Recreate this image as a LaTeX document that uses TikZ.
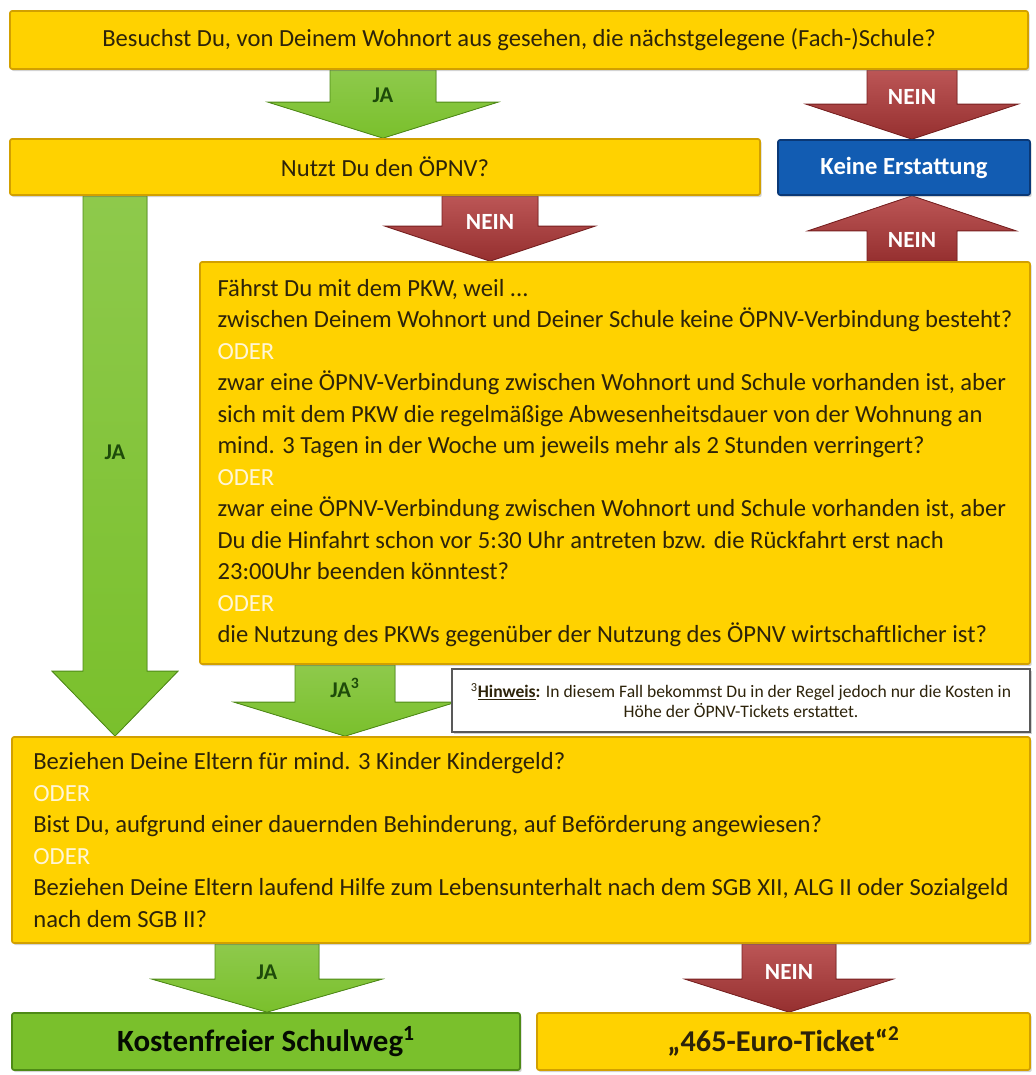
\documentclass[tikz,border=0pt]{standalone}
\usepackage{fontspec}
\setmainfont{Carlito}
\usetikzlibrary{calc,shadows,backgrounds}

\definecolor{boxyellow}{RGB}{255,210,0}
\definecolor{boxyellowdk}{RGB}{210,160,0}
\definecolor{jagreen}{RGB}{122,192,44}
\definecolor{jagreendk}{RGB}{78,138,22}
\definecolor{neinred}{RGB}{176,56,56}
\definecolor{neinreddk}{RGB}{120,32,32}
\definecolor{keinblue}{RGB}{18,92,178}
\definecolor{keinbluedk}{RGB}{10,56,118}
\definecolor{odercol}{RGB}{255,246,215}
\definecolor{ink}{RGB}{45,35,10}
\definecolor{jaink}{RGB}{30,75,10}

\newlength\px
\setlength\px{0.025cm}
\newcommand{\boxfont}{\fontsize{17.5pt}{22.4pt}\selectfont}
\newcommand{\oder}{\textcolor{odercol}{ODER}}

% block arrow along a vertical axis: style, axis x, from, to, half shaft, half head, head length
\newcommand{\blockarrow}[7]{%
  \coordinate (ax) at (#2,0);
  \coordinate (s) at (#3 -| ax);
  \coordinate (t) at (#4 -| ax);
  \coordinate (h) at ($(t)+(0,#7)$);
  \filldraw[#1] ($(s)+(-#5,0)$) -- ($(s)+(#5,0)$) -- ($(h)+(#5,0)$) -- ($(h)+(#6,0)$) -- (t)
    -- ($(h)+(-#6,0)$) -- ($(h)+(-#5,0)$) -- cycle;
}

\tikzset{
  ybox/.style={draw=boxyellowdk, fill=boxyellow, line width=1.2pt, rounded corners=1.5pt,
    text=ink, font=\boxfont, inner sep=0pt,
    drop shadow={opacity=0.35, shadow xshift=1.2pt, shadow yshift=-1.5pt}},
  gbox/.style={ybox, draw=jagreendk, fill=jagreen, text=black!85!jaink},
  bbox/.style={ybox, draw=keinbluedk, fill=keinblue, text=white},
  hintbox/.style={draw=gray!70!black, fill=white, line width=1.4pt, text=ink, inner sep=0pt,
    font=\fontsize{12.5pt}{14.4pt}\selectfont,
    drop shadow={opacity=0.35, shadow xshift=1.2pt, shadow yshift=-1.5pt}},
  jaarrow/.style={draw=jagreendk, line width=0.6pt, top color=jagreen!85!white, bottom color=jagreen},
  neinarrow/.style={draw=neinreddk, line width=0.6pt, top color=neinred!85!white, bottom color=neinred!85!black},
  jalabel/.style={text=jaink, font=\fontsize{16pt}{18pt}\selectfont\bfseries, inner sep=0pt},
  neinlabel/.style={text=white, font=\fontsize{16.5pt}{18pt}\selectfont\bfseries, inner sep=0pt}
}

\begin{document}
\begin{tikzpicture}[x=0.025cm,y=0.025cm]
\useasboundingbox (0,0) rectangle (1035,-1075);

\node (q1) [ybox, minimum width=1018\px, minimum height=58\px] at (519,-40)
  {Besuchst Du, von Deinem Wohnort aus gesehen, die nächstgelegene (Fach-)Schule?};
\node (q2) [ybox, minimum width=750\px, minimum height=56\px] at (385,-167) {Nutzt Du den ÖPNV?};
\node (kein) [bbox, minimum width=252\px, minimum height=55\px, font=\fontsize{17.5pt}{20pt}\selectfont\bfseries]
  at (904,-167.5) {Keine Erstattung};
\node (q3) [ybox, align=left, minimum width=830\px, minimum height=402\px] at (615,-463)
  {Fährst Du mit dem PKW, weil ...\\
   zwischen Deinem Wohnort und Deiner Schule keine ÖPNV-Verbindung besteht?\\
   \oder\\
   zwar eine ÖPNV-Verbindung zwischen Wohnort und Schule vorhanden ist, aber\\
   sich mit dem PKW die regelmäßige Abwesenheitsdauer von der Wohnung an\\
   mind. 3 Tagen in der Woche um jeweils mehr als 2 Stunden verringert?\\
   \oder\\
   zwar eine ÖPNV-Verbindung zwischen Wohnort und Schule vorhanden ist, aber\\
   Du die Hinfahrt schon vor 5:30 Uhr antreten bzw. die Rückfahrt erst nach\\
   23:00Uhr beenden könntest?\\
   \oder\\
   die Nutzung des PKWs gegenüber der Nutzung des ÖPNV wirtschaftlicher ist?};
\node (hint) [hintbox, align=center, minimum width=578\px, minimum height=63\px] at (741,-700.5)
  {\textsuperscript{3}\textbf{\underline{Hinweis}:} In diesem Fall bekommst Du in der Regel jedoch nur die Kosten in\\
   Höhe der ÖPNV-Tickets erstattet.};
\node (q4) [ybox, align=left, minimum width=1018\px, minimum height=206\px] at (521,-840)
  {Beziehen Deine Eltern für mind. 3 Kinder Kindergeld?\\
   \oder\\
   Bist Du, aufgrund einer dauernden Behinderung, auf Beförderung angewiesen?\\
   \oder\\
   Beziehen Deine Eltern laufend Hilfe zum Lebensunterhalt nach dem SGB XII, ALG II oder Sozialgeld\\
   nach dem SGB II?};
\node (free) [gbox, minimum width=508\px, minimum height=57\px, font=\fontsize{22pt}{24pt}\selectfont\bfseries]
  at (266,-1041.5) {Kostenfreier Schulweg\textsuperscript{1}};
\node (ticket) [ybox, minimum width=493\px, minimum height=57\px, font=\fontsize{21.5pt}{24pt}\selectfont\bfseries]
  at (783.5,-1041.5) {„465-Euro-Ticket“\textsuperscript{2}};

\begin{scope}[on background layer]
\blockarrow{jaarrow}{383}{q1.south}{q2.north}{53}{115}{36}
\blockarrow{neinarrow}{912}{q1.south}{kein.north}{45}{106}{35}
\blockarrow{neinarrow}{490}{q2.south}{q3.north}{48}{105}{35}
\blockarrow{neinarrow}{912}{q3.north}{kein.south}{45}{104}{-35}
\blockarrow{jaarrow}{115}{q2.south}{q4.north}{32}{63}{65}
\blockarrow{jaarrow}{345}{q3.south}{q4.north}{50}{111}{34}
\blockarrow{jaarrow}{267}{q4.south}{free.north}{52}{115}{33}
\blockarrow{neinarrow}{789}{q4.south}{ticket.north}{47}{104}{33}
\end{scope}

\node (ja1) [jalabel] at (383,-95) {JA};
\node (nein1) [neinlabel] at (912,-97) {NEIN};
\node (nein2) [neinlabel] at (490,-222) {NEIN};
\node (nein3) [neinlabel] at (912,-240) {NEIN};
\node (ja2) [jalabel] at (115,-452) {JA};
\node (ja3) [jalabel] at (345,-688) {JA\textsuperscript{3}};
\node (ja4) [jalabel] at (267,-972) {JA};
\node (nein4) [neinlabel] at (789,-972) {NEIN};
\end{tikzpicture}
\end{document}
